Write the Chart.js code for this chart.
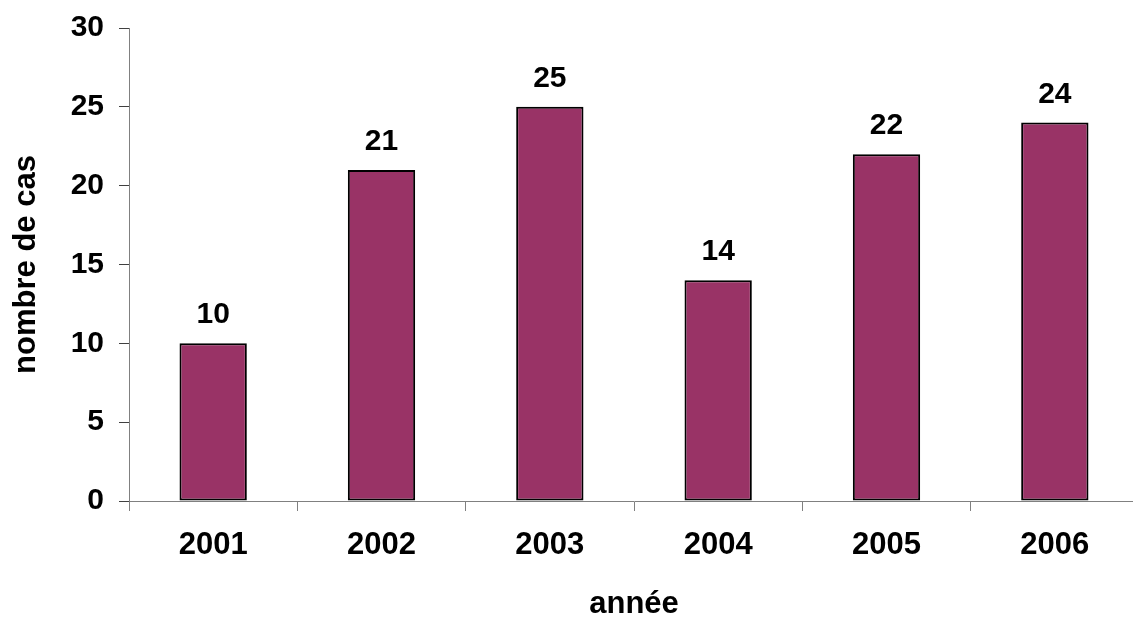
<!DOCTYPE html>
<html lang="fr">
<head>
<meta charset="utf-8">
<title>nombre de cas par année</title>
<script src="https://cdn.jsdelivr.net/npm/chart.js@4/dist/chart.umd.min.js"></script>
<style>
  html, body { margin: 0; padding: 0; background: #ffffff; overflow: hidden; }
  #wrap { width: 1133px; height: 620px; overflow: hidden; }
  canvas { display: block; }
</style>
</head>
<body>
<div id="wrap"><canvas id="chart" width="1139" height="620"></canvas></div>
<script>
// Cases per year
const years = ['2001', '2002', '2003', '2004', '2005', '2006'];
const cases = [10, 21, 25, 14, 22, 24];
const yTicks = [0, 5, 10, 15, 20, 25, 30];

const FONT_FAMILY = '"Liberation Sans", Arial, Helvetica, sans-serif';

// Bold value written above each bar
const valueLabels = {
  id: 'valueLabels',
  afterDatasetsDraw(chart) {
    const ctx = chart.ctx;
    const meta = chart.getDatasetMeta(0);
    ctx.save();
    ctx.font = 'bold 30px ' + FONT_FAMILY;
    ctx.fillStyle = '#000000';
    ctx.textAlign = 'center';
    ctx.textBaseline = 'alphabetic';
    meta.data.forEach((bar, i) => {
      ctx.fillText(String(cases[i]), bar.x, bar.y - 20);
    });
    ctx.restore();
  }
};

new Chart(document.getElementById('chart'), {
  type: 'bar',
  data: {
    labels: years,
    datasets: [{
      data: cases,
      backgroundColor: '#993366',
      borderColor: '#000000',
      borderWidth: 2,
      borderSkipped: false,
      categoryPercentage: 1.0,
      barPercentage: 0.4
    }]
  },
  options: {
    responsive: false,
    animation: false,
    devicePixelRatio: 1,
    layout: { padding: { top: 28, left: 0, right: 0, bottom: 0 } },
    plugins: {
      legend: { display: false },
      tooltip: { enabled: false }
    },
    scales: {
      x: {
        grid: {
          offset: true,
          drawOnChartArea: false,
          drawTicks: true,
          tickLength: 10,
          color: '#808080',
          lineWidth: 1
        },
        border: { display: true, color: '#808080', width: 1 },
        ticks: {
          color: '#000000',
          padding: 16,
          font: { family: FONT_FAMILY, size: 31, weight: 'bold' },
          maxRotation: 0
        },
        title: {
          display: true,
          text: 'année',
          color: '#000000',
          font: { family: FONT_FAMILY, size: 31, weight: 'bold', lineHeight: 1 },
          padding: { top: 0, bottom: 0 }
        },
        afterFit(scale) { scale.height = 119; }
      },
      y: {
        min: 0,
        max: 30,
        afterBuildTicks(scale) { scale.ticks = yTicks.map(v => ({ value: v })); },
        grid: {
          drawOnChartArea: false,
          drawTicks: true,
          tickLength: 10,
          color: '#404040',
          lineWidth: 1
        },
        border: { display: true, color: '#808080', width: 1 },
        ticks: {
          color: '#000000',
          padding: 15,
          font: { family: FONT_FAMILY, size: 30, weight: 'bold' }
        },
        title: {
          display: true,
          text: 'nombre de cas',
          color: '#000000',
          font: { family: FONT_FAMILY, size: 31, weight: 'bold', lineHeight: 1 },
          padding: { top: 11, bottom: 0 }
        },
        afterFit(scale) {
          scale.width = 129;
          scale.paddingTop = 0;
          scale.paddingBottom = 0;
        }
      }
    }
  },
  plugins: [valueLabels]
});
</script>
</body>
</html>
